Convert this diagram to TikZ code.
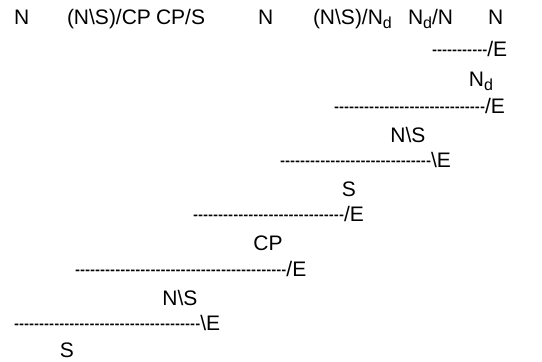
\documentclass[tikz,border=0pt]{standalone}
\usepackage{fontspec}
\setmainfont{Liberation Sans}
% a run of n narrowly set hyphens, kept apart so they never merge into dashes
\ExplSyntaxOn
\NewDocumentCommand\hyphrun{m}{\scalebox{0.72}[1]{\prg_replicate:nn{#1}{-\kern0pt}}}
\ExplSyntaxOff
\newcommand\catsub[1]{\raisebox{-0.35ex}{\fontsize{16}{16}\selectfont #1}}
\newcommand\bsl{\textbackslash}
\begin{document}
\begin{tikzpicture}[x=1pt,y=1pt,
  every node/.style={inner sep=0pt,outer sep=0pt,font=\fontsize{21}{24}\selectfont},
  cat/.style={anchor=base west},
  rulerow/.style={anchor=base west},
  result/.style={anchor=base}]
\useasboundingbox (0,0) rectangle (542,362);
% lexical categories
\node[cat] (w1) at (14,337.5) {N};
\node[cat] (w2) at (67,337.5) {(N\bsl S)/CP};
\node[cat] (w3) at (156,337.5) {CP/S};
\node[cat] (w4) at (258,337.5) {N};
\node[cat] (w5) at (313,337.5) {(N\bsl S)/N\catsub{d}};
\node[cat] (w6) at (408,337.5) {N\catsub{d}/N};
\node[cat] (w7) at (488,337.5) {N};
% combination steps and their results
\node[rulerow] (r1) at (432,305) {\hyphrun{11}/E};
\node[result]  (c1) at (481,275.5) {N\catsub{d}};
\node[rulerow] (r2) at (334,248) {\hyphrun{30}/E};
\node[result]  (c2) at (408,219.5) {N\bsl S};
\node[rulerow] (r3) at (280,194) {\hyphrun{30}\bsl E};
\node[result]  (c3) at (349,165.5) {S};
\node[rulerow] (r4) at (193,140) {\hyphrun{30}/E};
\node[result]  (c4) at (268,111.5) {CP};
\node[rulerow] (r5) at (75,85) {\hyphrun{42}/E};
\node[result]  (c5) at (180,56.5) {N\bsl S};
\node[rulerow] (r6) at (14,31) {\hyphrun{37}\bsl E};
\node[result]  (c6) at (67,4) {S};
\end{tikzpicture}
\end{document}
